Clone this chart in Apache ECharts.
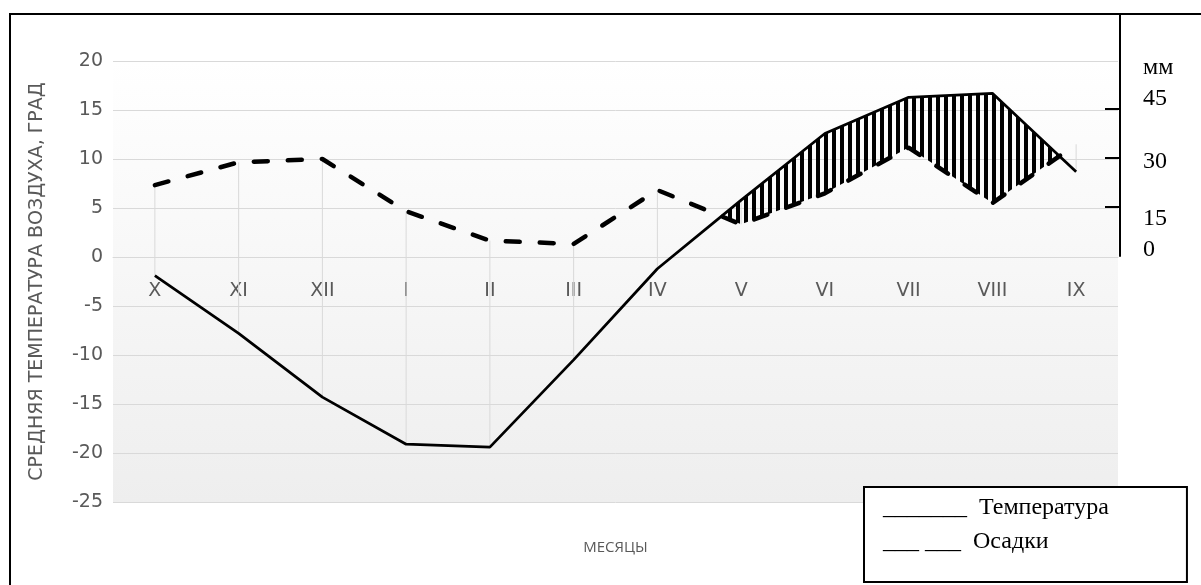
<!DOCTYPE html>
<html>
<head>
<meta charset="utf-8">
<script src="https://cdn.jsdelivr.net/npm/echarts@6/dist/echarts.min.js"></script>
<style>
html,body{margin:0;padding:0;background:#fff;}
#chart{width:1201px;height:585px;}
</style>
</head>
<body>
<div id="chart"></div>
<script>
// ---- data ----
const categories = ['X', 'XI', 'XII', 'I', 'II', 'III', 'IV', 'V', 'VI', 'VII', 'VIII', 'IX'];
const temperature = [-1.9, -7.8, -14.3, -19.1, -19.4, -10.5, -1.2, 5.8, 12.6, 16.3, 16.7, 8.7];   // °C
const precipitation = [22, 29, 30, 14, 5, 4, 20.5, 10, 19.5, 33.5, 16.5, 34.5];                 // mm
const tempAxis = { min: -25, max: 20, interval: 5 };
const mmAxis = { min: -75, max: 60, interval: 15 };
const mmTickLabels = [0, 15, 30, 45];
const mmTicks = [15, 30, 45];

const MM_PER_DEG = (mmAxis.max - mmAxis.min) / (tempAxis.max - tempAxis.min);

function makeHatch() {
  const c = document.createElement('canvas');
  c.width = 8; c.height = 8;
  const g = c.getContext('2d');
  g.fillStyle = '#000';
  g.fillRect(0, 0, 4, 8);
  return c;
}
const hatchCanvas = makeHatch();

function renderHatch(params, api) {
  const n = categories.length;
  const T = [], P = [];
  for (let i = 0; i < n; i++) {
    T.push(api.coord([i, temperature[i]]));
    P.push(api.coord([i, precipitation[i] / MM_PER_DEG]));
  }
  const polys = [];
  let up = null, lo = null;
  for (let i = 0; i < n; i++) {
    const d = P[i][1] - T[i][1];
    if (i > 0) {
      const dPrev = P[i - 1][1] - T[i - 1][1];
      if ((dPrev > 0) !== (d > 0)) {
        const t = dPrev / (dPrev - d);
        const x = T[i - 1][0] + t * (T[i][0] - T[i - 1][0]);
        const y = T[i - 1][1] + t * (T[i][1] - T[i - 1][1]);
        if (dPrev > 0) {
          up.push([x, y]);
          polys.push(up.concat(lo.slice().reverse()));
          up = null; lo = null;
        } else {
          up = [[x, y]]; lo = [];
        }
      }
    }
    if (d > 0) {
      if (!up) { up = []; lo = []; }
      up.push(T[i]); lo.push(P[i]);
    }
  }
  if (up) polys.push(up.concat(lo.slice().reverse()));
  return {
    type: 'group',
    children: polys.map(p => ({
      type: 'polygon',
      shape: { points: p },
      style: { fill: { image: hatchCanvas, repeat: 'repeat' }, stroke: null }
    }))
  };
}

function renderHighLow(params, api) {
  const i = api.value(0);
  const a = api.coord([i, api.value(1)]);
  const b = api.coord([i, api.value(2) / MM_PER_DEG]);
  return {
    type: 'line',
    shape: { x1: a[0], y1: a[1], x2: b[0], y2: b[1] },
    style: { stroke: '#d9d9d9', lineWidth: 1 }
  };
}

const labelFont = '"DejaVu Sans", "Open Sans", sans-serif';
const nameFont = '"Open Sans", "DejaVu Sans", sans-serif';
const serifFont = '"Liberation Serif", "Times New Roman", serif';
const GRID_TOP = 61, GRID_BOTTOM = 502;
const zeroOffset = -(GRID_BOTTOM - GRID_TOP) * (0 - tempAxis.min) / (tempAxis.max - tempAxis.min);

const chart = echarts.init(document.getElementById('chart'), null, { renderer: 'canvas' });

chart.setOption({
  animation: false,
  backgroundColor: '#ffffff',
  grid: [
    {
      left: 113, top: GRID_TOP, right: 83, bottom: 585 - GRID_BOTTOM,
      outerBoundsMode: 'none', containLabel: false,
      show: true, borderWidth: 0,
      backgroundColor: new echarts.graphic.LinearGradient(0, 0, 0, 1, [
        { offset: 0, color: '#ffffff' },
        { offset: 1, color: '#eeeeee' }
      ])
    },
    { left: 1000, top: 14, width: 120, height: 242, show: false, outerBoundsMode: 'none', containLabel: false }
  ],
  legend: {
    data: ['Температура', 'Осадки'],
    orient: 'vertical',
    left: 864, top: 487,
    itemWidth: 0, itemHeight: 0, icon: 'rect', itemGap: 8,
    selectedMode: false,
    formatter: name => (name === 'Температура' ? '_______  ' : '___ ___  ') + name,
    textStyle: { fontFamily: serifFont, fontSize: 24, color: '#000', lineHeight: 26 },
    padding: [8, 78, 27, 14],
    borderColor: '#000', borderWidth: 2, backgroundColor: '#fff'
  },
  xAxis: [
    {
      type: 'category', gridIndex: 0, data: categories, boundaryGap: true,
      position: 'bottom', offset: zeroOffset,
      axisLine: { show: true, onZero: false, lineStyle: { color: '#d9d9d9', width: 1 } },
      axisTick: { show: false },
      splitLine: { show: false },
      axisLabel: { color: '#595959', fontFamily: labelFont, fontSize: 19, margin: 25 },
      name: 'МЕСЯЦЫ', nameLocation: 'middle', nameGap: 283,
      nameTextStyle: { color: '#595959', fontFamily: nameFont, fontSize: 15 }
    },
    { type: 'value', gridIndex: 1, show: false, min: 0, max: 1 }
  ],
  yAxis: [
    {
      type: 'value', gridIndex: 0, position: 'left',
      min: tempAxis.min, max: tempAxis.max, interval: tempAxis.interval,
      axisLine: { show: false, onZero: false }, axisTick: { show: false },
      splitLine: { show: true, lineStyle: { color: '#d9d9d9', width: 1 } },
      axisLabel: { color: '#595959', fontFamily: labelFont, fontSize: 19, margin: 10 },
      name: 'СРЕДНЯЯ ТЕМПЕРАТУРА ВОЗДУХА, ГРАД', nameLocation: 'middle', nameGap: 66,
      nameTextStyle: { color: '#595959', fontFamily: labelFont, fontSize: 19 }
    },
    {
      type: 'value', gridIndex: 0, position: 'right', show: false,
      min: mmAxis.min, max: mmAxis.max, interval: mmAxis.interval
    },
    {
      type: 'value', gridIndex: 1, position: 'right',
      min: 0, max: 74, interval: 15,
      axisLine: { show: true, onZero: false, lineStyle: { color: '#000', width: 2 } },
      axisTick: { show: true, inside: true, length: 15, customValues: mmTicks, lineStyle: { color: '#000', width: 2 } },
      splitLine: { show: false },
      axisLabel: {
        customValues: mmTickLabels,
        margin: 23,
        color: '#000', fontFamily: serifFont, fontSize: 24,
        formatter: v => v === 45 ? '{u|45}' : v === 30 ? '{m|30}' : v === 15 ? '{d|15}' : '{z|0}',
        rich: {
          u: { fontFamily: serifFont, fontSize: 24, color: '#000', padding: [0, 0, 20, 0] },
          m: { fontFamily: serifFont, fontSize: 24, color: '#000', padding: [8, 0, 0, 0] },
          d: { fontFamily: serifFont, fontSize: 24, color: '#000', padding: [24, 0, 0, 0] },
          z: { fontFamily: serifFont, fontSize: 24, color: '#000', padding: [0, 0, 12, 0] }
        }
      }
    }
  ],
  graphic: [
    { type: 'text', left: 1143, top: 56, style: { text: 'мм', fontFamily: serifFont, fontSize: 24, fill: '#000' }, z: 10 },
    { type: 'rect', shape: { x: 10, y: 14, width: 1200, height: 580 }, style: { fill: null, stroke: '#000', lineWidth: 2 }, z: 20, silent: true }
  ],
  series: [
    {
      type: 'custom', name: 'highlow', xAxisIndex: 0, yAxisIndex: 0, z: 1, silent: true,
      renderItem: renderHighLow,
      data: categories.map((c, i) => [i, temperature[i], precipitation[i]])
    },
    {
      type: 'line', name: 'Температура', xAxisIndex: 0, yAxisIndex: 0, data: temperature,
      symbol: 'none', z: 4,
      lineStyle: { color: '#000', width: 2.75 }, itemStyle: { color: '#000' }
    },
    {
      type: 'line', name: 'Осадки', xAxisIndex: 0, yAxisIndex: 1, data: precipitation,
      symbol: 'none', z: 4,
      lineStyle: { color: '#000', width: 4.5, type: [14, 20], cap: 'round' }, itemStyle: { color: '#000' }
    },
    {
      type: 'custom', name: 'hatch', xAxisIndex: 0, yAxisIndex: 0, z: 5, silent: true, clip: false,
      renderItem: renderHatch,
      data: [0]
    }
  ]
});
</script>
</body>
</html>
